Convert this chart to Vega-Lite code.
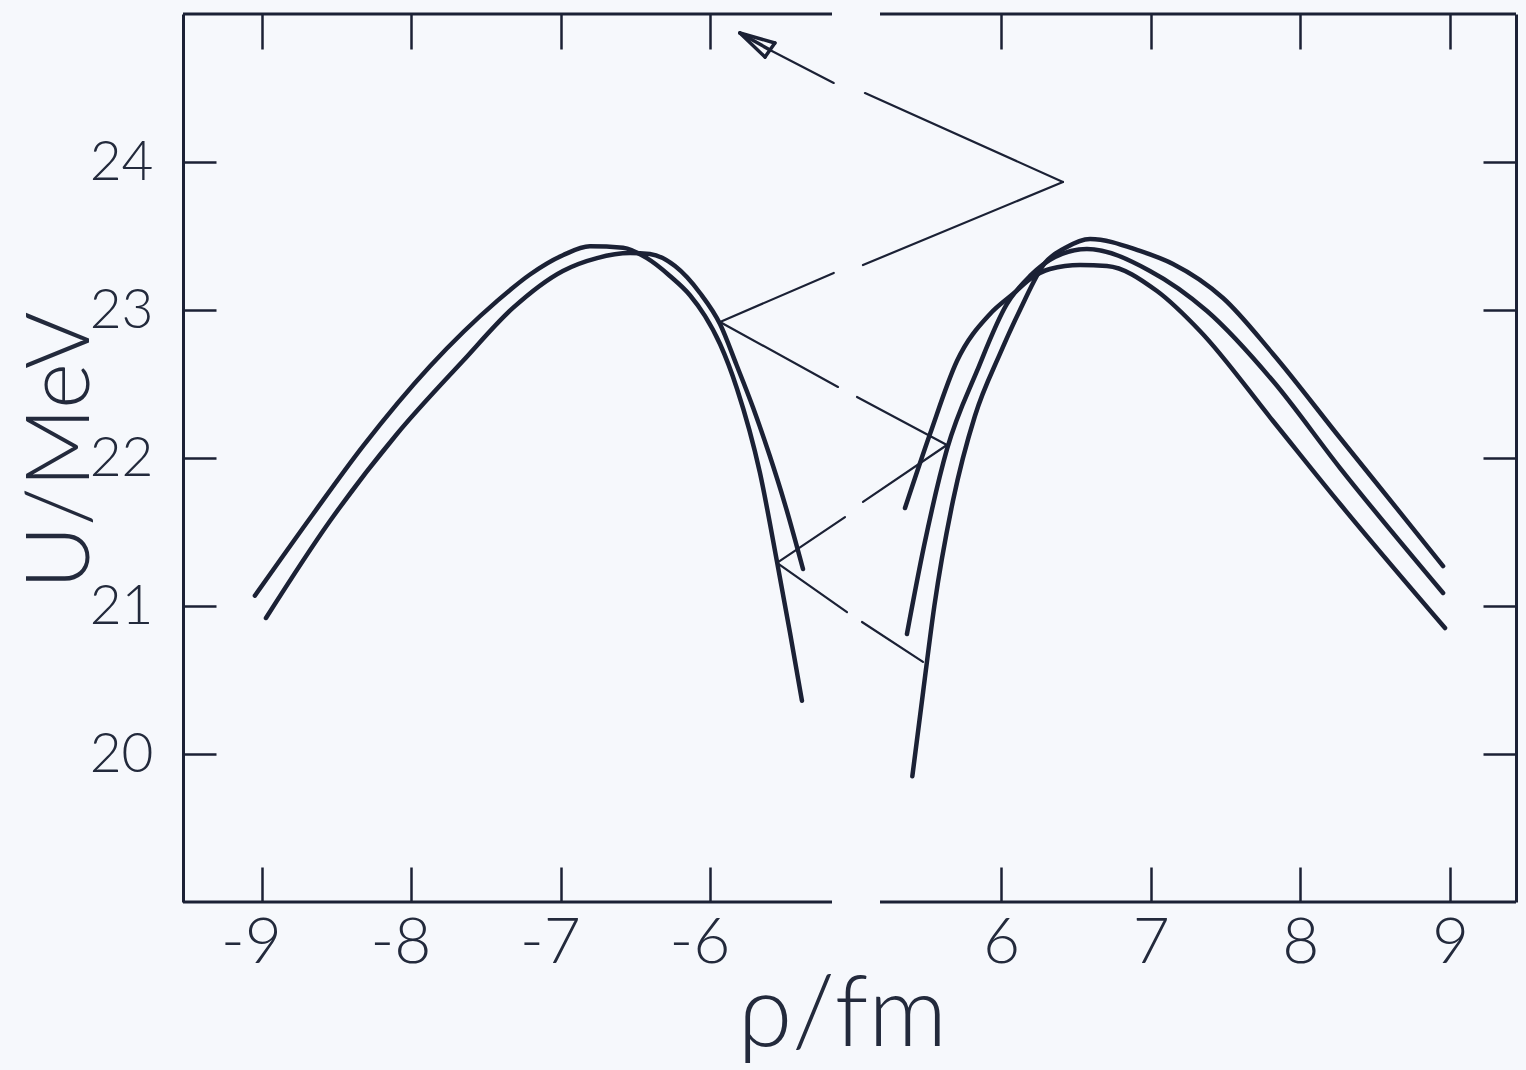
{
  "$schema": "https://vega.github.io/schema/vega-lite/v6.json",
  "width": 1333,
  "height": 888,
  "autosize": {"type": "none"},
  "padding": {"left": 183, "top": 14, "right": 10, "bottom": 168},
  "background": "#f6f8fc",
  "config": {
    "view": {"stroke": null},
    "axis": {
      "grid": false,
      "labelFont": "Lato",
      "titleFont": "Lato",
      "labelFontWeight": 300,
      "titleFontWeight": 300,
      "labelColor": "#232a3c",
      "titleColor": "#232a3c",
      "tickColor": "#1b2135",
      "domainColor": "#1b2135"
    }
  },
  "datasets": {
    "curves": [
      {"curve": "A", "rho": -9.047, "U": 21.07},
      {"curve": "A", "rho": -8.659, "U": 21.62},
      {"curve": "A", "rho": -8.324, "U": 22.08},
      {"curve": "A", "rho": -7.876, "U": 22.62},
      {"curve": "A", "rho": -7.428, "U": 23.06},
      {"curve": "A", "rho": -7.207, "U": 23.24},
      {"curve": "A", "rho": -6.987, "U": 23.37},
      {"curve": "A", "rho": -6.806, "U": 23.43},
      {"curve": "A", "rho": -6.585, "U": 23.42},
      {"curve": "A", "rho": -6.425, "U": 23.35},
      {"curve": "A", "rho": -6.271, "U": 23.23},
      {"curve": "A", "rho": -6.137, "U": 23.10},
      {"curve": "A", "rho": -6.037, "U": 22.96},
      {"curve": "A", "rho": -5.936, "U": 22.77},
      {"curve": "A", "rho": -5.823, "U": 22.47},
      {"curve": "A", "rho": -5.669, "U": 21.90},
      {"curve": "A", "rho": -5.555, "U": 21.30},
      {"curve": "A", "rho": -5.468, "U": 20.82},
      {"curve": "A", "rho": -5.388, "U": 20.36},
      {"curve": "B", "rho": -8.973, "U": 20.919},
      {"curve": "B", "rho": -8.545, "U": 21.574},
      {"curve": "B", "rho": -8.097, "U": 22.162},
      {"curve": "B", "rho": -7.656, "U": 22.655},
      {"curve": "B", "rho": -7.321, "U": 23.014},
      {"curve": "B", "rho": -6.987, "U": 23.264},
      {"curve": "B", "rho": -6.759, "U": 23.351},
      {"curve": "B", "rho": -6.538, "U": 23.385},
      {"curve": "B", "rho": -6.405, "U": 23.378},
      {"curve": "B", "rho": -6.237, "U": 23.297},
      {"curve": "B", "rho": -6.070, "U": 23.115},
      {"curve": "B", "rho": -5.936, "U": 22.905},
      {"curve": "B", "rho": -5.826, "U": 22.63},
      {"curve": "B", "rho": -5.714, "U": 22.338},
      {"curve": "B", "rho": -5.605, "U": 22.02},
      {"curve": "B", "rho": -5.502, "U": 21.689},
      {"curve": "B", "rho": -5.381, "U": 21.25},
      {"curve": "R1", "rho": 5.408, "U": 19.85},
      {"curve": "R1", "rho": 5.48, "U": 20.42},
      {"curve": "R1", "rho": 5.555, "U": 21.0},
      {"curve": "R1", "rho": 5.679, "U": 21.709},
      {"curve": "R1", "rho": 5.826, "U": 22.284},
      {"curve": "R1", "rho": 5.993, "U": 22.703},
      {"curve": "R1", "rho": 6.127, "U": 23.0},
      {"curve": "R1", "rho": 6.294, "U": 23.318},
      {"curve": "R1", "rho": 6.428, "U": 23.419},
      {"curve": "R1", "rho": 6.595, "U": 23.48},
      {"curve": "R1", "rho": 6.929, "U": 23.399},
      {"curve": "R1", "rho": 7.149, "U": 23.311},
      {"curve": "R1", "rho": 7.483, "U": 23.081},
      {"curve": "R1", "rho": 7.817, "U": 22.703},
      {"curve": "R1", "rho": 8.265, "U": 22.135},
      {"curve": "R1", "rho": 8.712, "U": 21.574},
      {"curve": "R1", "rho": 8.953, "U": 21.27},
      {"curve": "R2", "rho": 5.372, "U": 20.811},
      {"curve": "R2", "rho": 5.486, "U": 21.405},
      {"curve": "R2", "rho": 5.640, "U": 22.061},
      {"curve": "R2", "rho": 5.840, "U": 22.588},
      {"curve": "R2", "rho": 6.040, "U": 23.041},
      {"curve": "R2", "rho": 6.194, "U": 23.230},
      {"curve": "R2", "rho": 6.361, "U": 23.358},
      {"curve": "R2", "rho": 6.574, "U": 23.412},
      {"curve": "R2", "rho": 6.995, "U": 23.264},
      {"curve": "R2", "rho": 7.376, "U": 22.993},
      {"curve": "R2", "rho": 7.817, "U": 22.520},
      {"curve": "R2", "rho": 8.265, "U": 21.932},
      {"curve": "R2", "rho": 8.953, "U": 21.088},
      {"curve": "R3", "rho": 5.359, "U": 21.662},
      {"curve": "R3", "rho": 5.526, "U": 22.162},
      {"curve": "R3", "rho": 5.706, "U": 22.655},
      {"curve": "R3", "rho": 5.927, "U": 22.973},
      {"curve": "R3", "rho": 6.080, "U": 23.108},
      {"curve": "R3", "rho": 6.194, "U": 23.209},
      {"curve": "R3", "rho": 6.327, "U": 23.277},
      {"curve": "R3", "rho": 6.528, "U": 23.304},
      {"curve": "R3", "rho": 6.708, "U": 23.297},
      {"curve": "R3", "rho": 7.042, "U": 23.128},
      {"curve": "R3", "rho": 7.329, "U": 22.858},
      {"curve": "R3", "rho": 7.817, "U": 22.250},
      {"curve": "R3", "rho": 8.265, "U": 21.689},
      {"curve": "R3", "rho": 8.966, "U": 20.851}
    ],
    "frame": [
      {"x": -9.528, "x2": -5.187, "y": 19},
      {"x": 5.192, "x2": 9.44, "y": 19},
      {"x": -9.528, "x2": -5.187, "y": 25},
      {"x": 5.192, "x2": 9.44, "y": 25}
    ],
    "arrowhead": [
      {"x": -5.803, "y": 24.872, "x2": -5.569, "y2": 24.804},
      {"x": -5.803, "y": 24.872, "x2": -5.635, "y2": 24.709},
      {"x": -5.569, "y": 24.804, "x2": -5.635, "y2": 24.709},
      {"x": -5.803, "y": 24.872, "x2": -5.602, "y2": 24.757}
    ],
    "arrows": [
      {"x": -5.602, "y": 24.757, "x2": -4.809, "y2": 24.534},
      {"x": 1.948, "y": 24.466, "x2": 6.414, "y2": 23.865},
      {"x": 6.414, "y": 23.865, "x2": 1.516, "y2": 23.304},
      {"x": -4.809, "y": 23.25, "x2": -5.936, "y2": 22.919},
      {"x": -5.936, "y": 22.919, "x2": -3.890, "y2": 22.480},
      {"x": 0.218, "y": 22.412, "x2": 5.639, "y2": 22.088},
      {"x": 5.639, "y": 22.088, "x2": 1.516, "y2": 21.703},
      {"x": -2.376, "y": 21.601, "x2": -5.555, "y2": 21.291},
      {"x": -5.555, "y": 21.291, "x2": -1.944, "y2": 20.959},
      {"x": 1.299, "y": 20.892, "x2": 5.479, "y2": 20.622}
    ]
  },
  "layer": [
    {
      "data": {"name": "curves"},
      "mark": {"type": "line", "interpolate": "monotone", "strokeWidth": 4.5, "color": "#1b2135", "strokeCap": "round"},
      "encoding": {
        "x": {
          "field": "rho", "type": "quantitative",
          "scale": {"domain": [-9.528, -5.187, 5.192, 9.44], "range": [0, 649, 697, 1333], "nice": false, "zero": false},
          "axis": {
            "orient": "bottom", "values": [-9, -8, -7, -6, 6, 7, 8, 9], "domain": false,
            "tickSize": -35, "tickWidth": 2.5, "labelFontSize": 64, "labelPadding": 44,
            "labelFlush": false, "labelOverlap": false,
            "labelExpr": "datum.value < 0 ? '-' + abs(datum.value) : '' + datum.value",
            "labelOffset": {"condition": {"test": "datum.value < 0", "value": -11}, "value": 0},
            "title": "ρ/fm", "titleFontSize": 98,
            "titleX": 659, "titleY": 143, "titleBaseline": "alphabetic", "titleAlign": "center"
          }
        },
        "y": {
          "field": "U", "type": "quantitative",
          "scale": {"domain": [19, 25], "nice": false, "zero": false},
          "axis": {
            "orient": "left", "values": [20, 21, 22, 23, 24], "domain": true, "domainWidth": 3,
            "tickSize": -33, "tickWidth": 2.5, "labelFontSize": 55, "labelPadding": 63,
            "title": "U/MeV", "titleFontSize": 88,
            "titleX": -95, "titleY": 436, "titleBaseline": "alphabetic", "titleAlign": "center", "titleAngle": 270
          }
        },
        "detail": {"field": "curve", "type": "nominal"}
      }
    },
    {
      "data": {"name": "frame"},
      "mark": {"type": "rule", "strokeWidth": 3, "color": "#1b2135"},
      "encoding": {
        "x": {
          "field": "x", "type": "quantitative",
          "axis": {"orient": "top", "values": [-9, -8, -7, -6, 6, 7, 8, 9], "domain": false, "labels": false, "tickSize": -35, "tickWidth": 2.5, "title": null}
        },
        "x2": {"field": "x2"},
        "y": {
          "field": "y", "type": "quantitative",
          "axis": {"orient": "right", "values": [20, 21, 22, 23, 24], "domain": true, "domainWidth": 3, "labels": false, "tickSize": -33, "tickWidth": 2.5, "title": null}
        }
      }
    },
    {
      "data": {"name": "arrowhead"},
      "mark": {"type": "rule", "strokeWidth": 3.5, "color": "#1b2135", "strokeCap": "round"},
      "encoding": {
        "x": {"field": "x", "type": "quantitative", "axis": null},
        "x2": {"field": "x2"},
        "y": {"field": "y", "type": "quantitative", "axis": null},
        "y2": {"field": "y2"}
      }
    },
    {
      "data": {"name": "arrows"},
      "mark": {"type": "rule", "strokeWidth": 2.2, "color": "#1b2135", "strokeCap": "round"},
      "encoding": {
        "x": {"field": "x", "type": "quantitative", "axis": null},
        "x2": {"field": "x2"},
        "y": {"field": "y", "type": "quantitative", "axis": null},
        "y2": {"field": "y2"}
      }
    }
  ],
  "resolve": {"axis": {"x": "independent", "y": "independent"}}
}
